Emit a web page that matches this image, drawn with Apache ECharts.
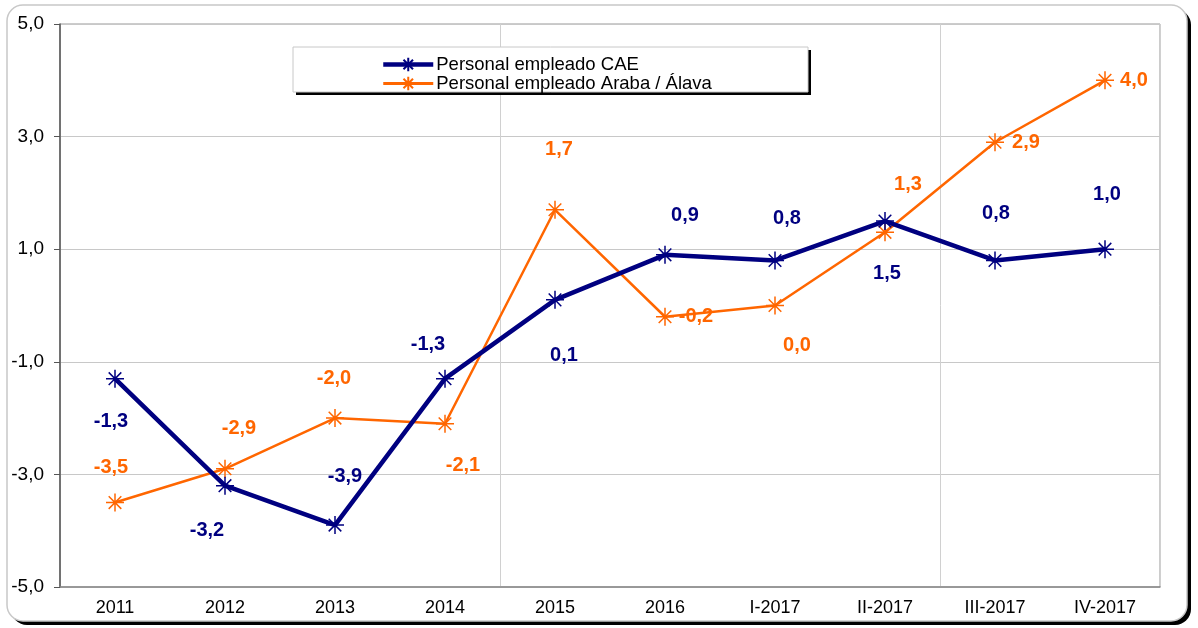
<!DOCTYPE html>
<html>
<head>
<meta charset="utf-8">
<script src="https://cdn.jsdelivr.net/npm/echarts@6/dist/echarts.min.js"></script>
<style>
	html,body{margin:0;padding:0;background:#fff;}
	#chart{width:1198px;height:628px;}
</style>
</head>
<body>
<div id="chart"></div>
<script>
	// categorías y series
	var categorias = ['2011','2012','2013','2014','2015','2016','I-2017','II-2017','III-2017','IV-2017'];
	var cae = [-1.3, -3.2, -3.9, -1.3, 0.1, 0.9, 0.8, 1.5, 0.8, 1.0];
	var araba = [-3.5, -2.9, -2.0, -2.1, 1.7, -0.2, 0.0, 1.3, 2.9, 4.0];
	// desplazamiento de las etiquetas (px)
	var offCae = [[-4,43],[-18,45],[10,-49],[-17,-34],[9,56],[20,-39],[12,-42],[2,52],[1,-47],[2,-55]];
	var offAraba = [[-4,-35],[14,-40],[-1,-40],[18,42],[4,-60],[31,0],[22,40],[23,-48],[31,0],[29,0]];

	var asterisco = 'path://M0,5L10,5M5,0L5,10M1.5,1.5L8.5,8.5M8.5,1.5L1.5,8.5';
	var fuente = 'Liberation Sans, Arial';

	function fmt(v){ return v.toFixed(1).replace('.', ','); }

	function puntos(vals, offs){
		return vals.map(function(v,i){
			return {value:v, label:{offset:offs[i]}};
		});
	}

	var chart = echarts.init(document.getElementById('chart'));
	chart.setOption({
		animation:false,
		graphic:[
			// marco exterior con sombra
			{type:'rect', z:-11, shape:{x:11,y:9,width:1180,height:616,r:16}, style:{fill:'#000'}},
			{type:'rect', z:-10, shape:{x:7,y:5,width:1180,height:616,r:16}, style:{fill:'#fff',stroke:'#c8c8c8',lineWidth:1.5}},
			// caja de la leyenda
			{type:'rect', z:4, shape:{x:296,y:50,width:515,height:45}, style:{fill:'#000'}},
			{type:'rect', z:5, shape:{x:293,y:47,width:515,height:45}, style:{fill:'#fff',stroke:'#c8c8c8',lineWidth:1}}
		],
		grid:{left:60, right:38, top:24, bottom:41, show:true, borderColor:'#999', borderWidth:1},
		legend:{
			left:376, top:50, orient:'vertical', itemGap:0, itemWidth:50, itemHeight:17, z:10,
			textStyle:{fontFamily:fuente, fontSize:18.5, lineHeight:17, color:'#000', padding:[0,0,0,-2]},
			data:[
				{name:'Personal empleado CAE', lineStyle:{width:4.5}},
				{name:'Personal empleado Araba / Álava', lineStyle:{width:3}}
			]
		},
		xAxis:{
			type:'category', data:categorias, boundaryGap:true,
			axisLine:{onZero:false, lineStyle:{color:'#888',width:1.5}},
			axisTick:{show:false},
			axisLabel:{fontFamily:fuente, fontSize:18, color:'#000', margin:12},
			splitLine:{show:true, interval:function(i){return i===4||i===8;}, lineStyle:{color:'#d0d0d0'}}
		},
		yAxis:{
			type:'value', min:-5, max:5, interval:2,
			axisLine:{show:true, lineStyle:{color:'#555',width:1.5}},
			axisTick:{show:true, length:6, lineStyle:{color:'#555'}},
			axisLabel:{fontFamily:fuente, fontSize:19, color:'#000', margin:16, formatter:fmt},
			splitLine:{lineStyle:{color:'#c8c8c8'}}
		},
		series:[
			{
				name:'Personal empleado CAE', type:'line', z:3,
				data:puntos(cae, offCae),
				symbol:asterisco, symbolSize:18,
				lineStyle:{color:'#000080', width:4.5},
				itemStyle:{color:'#000080', borderColor:'#000080', borderWidth:1.5},
				label:{show:true, position:'inside', color:'#000080', fontFamily:fuente, fontWeight:'bold', fontSize:20,
					formatter:function(p){return fmt(p.value);}}
			},
			{
				name:'Personal empleado Araba / Álava', type:'line', z:2,
				data:puntos(araba, offAraba),
				symbol:asterisco, symbolSize:18,
				lineStyle:{color:'#FF6600', width:2.5},
				itemStyle:{color:'#FF6600', borderColor:'#FF6600', borderWidth:1.5},
				label:{show:true, position:'inside', color:'#FF6600', fontFamily:fuente, fontWeight:'bold', fontSize:20,
					formatter:function(p){return fmt(p.value);}}
			}
		]
	});
</script>
</body>
</html>
